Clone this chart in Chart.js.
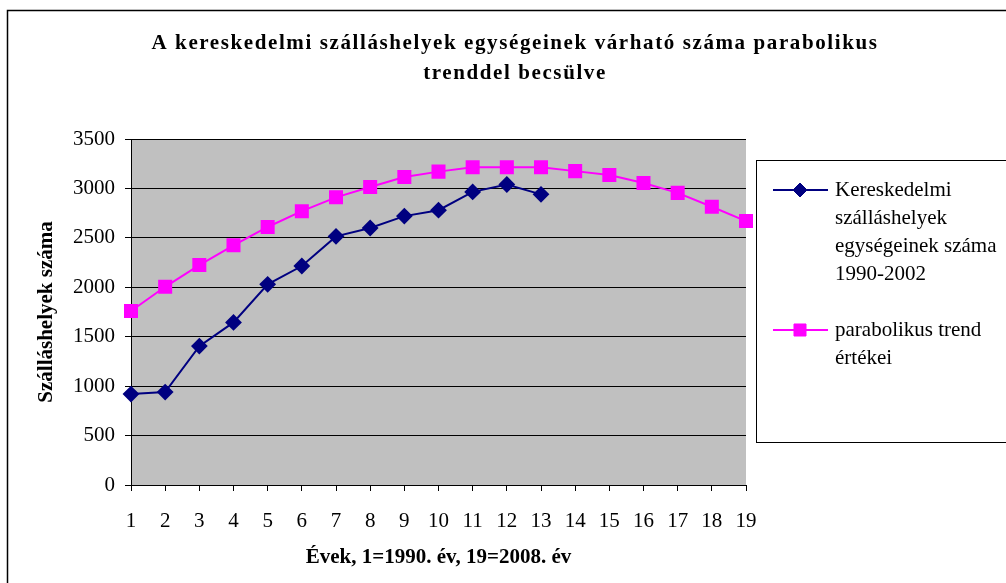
<!DOCTYPE html>
<html>
<head>
<meta charset="utf-8">
<script src="https://cdn.jsdelivr.net/npm/chart.js@4/dist/chart.umd.min.js"></script>
<style>
  html, body { margin:0; padding:0; background:#fff; }
  #wrap { width:1006px; height:583px; position:relative; }
</style>
</head>
<body>
<div id="wrap"><canvas id="chart" width="1006" height="583"></canvas></div>
<script>
// ===== adatok =====
const titleLines = ['A kereskedelmi szálláshelyek egységeinek várható száma parabolikus', 'trenddel becsülve'];
const xLabels = ['1','2','3','4','5','6','7','8','9','10','11','12','13','14','15','16','17','18','19'];
const tenyleges = [920, 940, 1405, 1645, 2030, 2215, 2515, 2600, 2720, 2780, 2965, 3040, 2940];
const trend = [1760, 2005, 2225, 2425, 2610, 2770, 2910, 3015, 3115, 3170, 3215, 3215, 3215, 3175, 3135, 3055, 2955, 2815, 2670];
const legendLines = [
  ['Kereskedelmi', 'szálláshelyek', 'egységeinek száma', '1990-2002'],
  ['parabolikus trend', 'értékei']
];
const xTitle = 'Évek, 1=1990. év, 19=2008. év';
const yTitle = 'Szálláshelyek száma';

const SERIF = "'Liberation Serif', 'Times New Roman', serif";

// háttér, cím, jelmagyarázat, keret
const excelFrame = {
  id: 'excelFrame',
  beforeDraw(chart) {
    const {ctx, chartArea: a} = chart;
    ctx.save();
    ctx.fillStyle = '#c0c0c0';
    ctx.fillRect(a.left, a.top, a.right - a.left, a.bottom - a.top);
    ctx.restore();
  },
  afterDraw(chart) {
    const ctx = chart.ctx;
    ctx.save();
    // cím
    ctx.fillStyle = '#000';
    ctx.font = 'bold 21px ' + SERIF;
    ctx.textAlign = 'center';
    ctx.textBaseline = 'alphabetic';
    ctx.letterSpacing = '1.6px';
    ctx.fillText(titleLines[0], 515, 49);
    ctx.fillText(titleLines[1], 515, 79);
    ctx.letterSpacing = '0px';

    // jelmagyarázat
    ctx.fillStyle = '#fff';
    ctx.fillRect(756, 160, 300, 282);
    ctx.strokeStyle = '#000';
    ctx.lineWidth = 1;
    ctx.strokeRect(756.5, 160.5, 300, 282);
    const rows = [190, 330];
    ctx.font = '21px ' + SERIF;
    ctx.textAlign = 'left';
    ctx.textBaseline = 'middle';
    chart.data.datasets.forEach((ds, i) => {
      const y = rows[i];
      ctx.strokeStyle = ds.borderColor;
      ctx.lineWidth = 2;
      ctx.beginPath();
      ctx.moveTo(773, y);
      ctx.lineTo(828, y);
      ctx.stroke();
      ctx.fillStyle = ds.pointBackgroundColor;
      ctx.strokeStyle = ds.pointBorderColor;
      ctx.lineWidth = 1;
      Chart.helpers.drawPoint(ctx, {pointStyle: ds.pointStyle, radius: ds.pointRadius, borderWidth: 1, rotation: 0}, 800, y);
      ctx.fillStyle = '#000';
      legendLines[i].forEach((t, j) => ctx.fillText(t, 835, y + j * 28));
    });

    // külső keret
    ctx.strokeStyle = '#000';
    ctx.lineWidth = 1.5;
    ctx.strokeRect(7.5, 10.5, 1100, 700);
    ctx.restore();
  }
};

new Chart(document.getElementById('chart'), {
  type: 'line',
  data: {
    labels: xLabels,
    datasets: [
      {
        label: legendLines[0].join(' '),
        data: tenyleges,
        borderColor: '#000080',
        borderWidth: 2,
        pointStyle: 'rectRot',
        pointRadius: 7,
        pointBackgroundColor: '#000080',
        pointBorderColor: '#000080',
        tension: 0
      },
      {
        label: legendLines[1].join(' '),
        data: trend,
        borderColor: '#ff00ff',
        borderWidth: 2,
        pointStyle: 'rect',
        pointRadius: 8.5,
        pointBackgroundColor: '#ff00ff',
        pointBorderColor: '#ff00ff',
        tension: 0
      }
    ]
  },
  options: {
    responsive: false,
    animation: false,
    layout: { padding: { left: 0, right: 260, top: 139, bottom: 0 } },
    plugins: { legend: { display: false }, title: { display: false }, tooltip: { enabled: false } },
    scales: {
      x: {
        offset: false,
        afterFit: s => { s.height = 98; },
        grid: { drawOnChartArea: false, drawTicks: true, tickLength: 6, color: '#000' },
        border: { display: true, color: '#000', width: 1 },
        ticks: { color: '#000', font: { family: SERIF, size: 21 }, padding: 18, maxRotation: 0, autoSkip: false },
        title: { display: true, text: xTitle, color: '#000', font: { family: SERIF, size: 21, weight: 'bold' }, padding: { top: 0, bottom: 13 } }
      },
      y: {
        min: 0, max: 3500,
        afterFit: s => { s.width = 131; },
        grid: { color: '#000', lineWidth: 1, tickLength: 6 },
        border: { display: true, color: '#000', width: 1 },
        ticks: { stepSize: 500, color: '#000', font: { family: SERIF, size: 21 }, padding: 10, callback: v => String(v) },
        title: { display: true, text: yTitle, color: '#000', font: { family: SERIF, size: 21, weight: 'bold' }, padding: { top: 34, bottom: 0 } }
      }
    }
  },
  plugins: [excelFrame]
});
</script>
</body>
</html>
